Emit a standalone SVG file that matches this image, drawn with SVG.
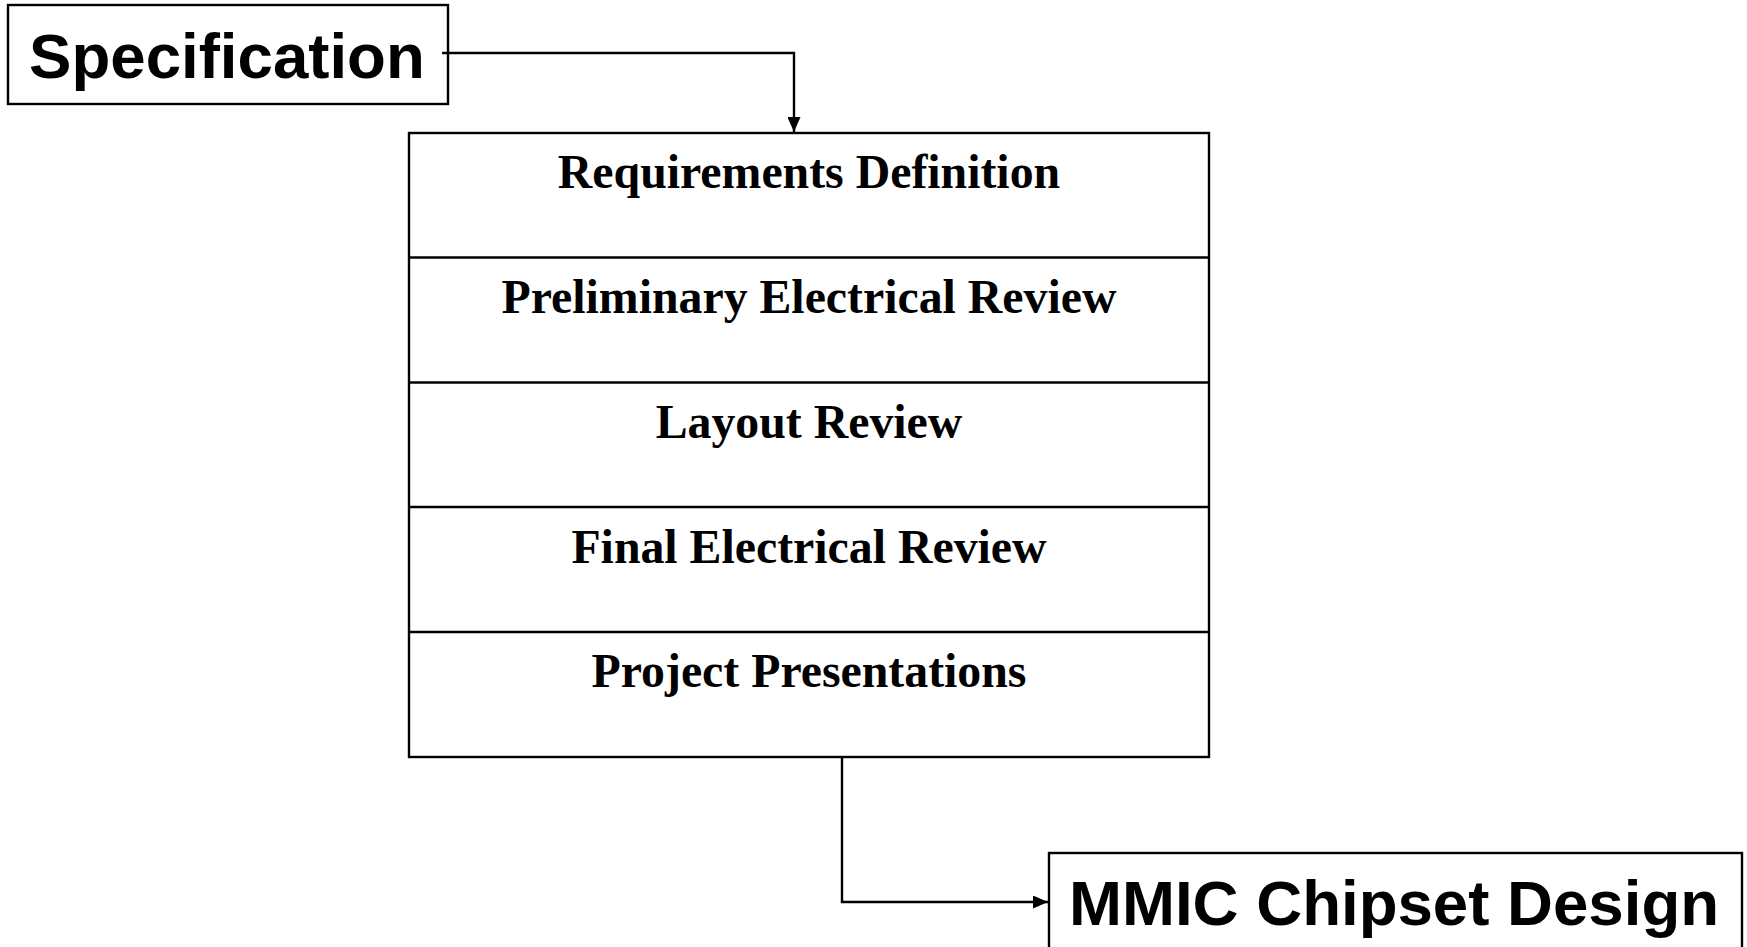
<svg xmlns="http://www.w3.org/2000/svg" width="1747" height="947" viewBox="0 0 1747 947">
<style>
.box{fill:#fff;stroke:#000;stroke-width:2.4}
.line{fill:none;stroke:#000;stroke-width:2.4}
.big{font-family:"Liberation Sans",Arial,sans-serif;font-weight:bold;font-size:63.6px;fill:#000}
.row{font-family:"Liberation Serif","Times New Roman",serif;font-weight:bold;font-size:47.8px;fill:#000;text-anchor:middle}
</style>
<defs>
<marker id="arr" viewBox="0 0 15 13" refX="15" refY="6.5" markerWidth="15" markerHeight="13" markerUnits="userSpaceOnUse" orient="auto">
<path d="M0,0 L15,6.5 L0,13 Z" fill="#000"/>
</marker>
</defs>
<rect width="1747" height="947" fill="#fff"/>
<g id="specification">
<rect class="box" x="8" y="5" width="440" height="99"/>
<text class="big" x="29" y="78">Specification</text>
</g>
<g id="review-stack">
<rect class="box" x="409" y="133" width="800" height="624"/>
<line class="line" x1="409" y1="257.5" x2="1209" y2="257.5"/>
<line class="line" x1="409" y1="382.5" x2="1209" y2="382.5"/>
<line class="line" x1="409" y1="507" x2="1209" y2="507"/>
<line class="line" x1="409" y1="632" x2="1209" y2="632"/>
<text class="row" x="809" y="188">Requirements Definition</text>
<text class="row" x="809" y="313">Preliminary Electrical Review</text>
<text class="row" x="809" y="438">Layout Review</text>
<text class="row" x="809" y="563">Final Electrical Review</text>
<text class="row" x="809" y="687">Project Presentations</text>
</g>
<g id="mmic">
<rect class="box" x="1049" y="853" width="693" height="100"/>
<text class="big" x="1069" y="925">MMIC Chipset Design</text>
</g>
<g id="connectors">
<path class="line" d="M442,53 H794 V132" marker-end="url(#arr)"/>
<path class="line" d="M842,757 V902 H1048" marker-end="url(#arr)"/>
</g>
</svg>
